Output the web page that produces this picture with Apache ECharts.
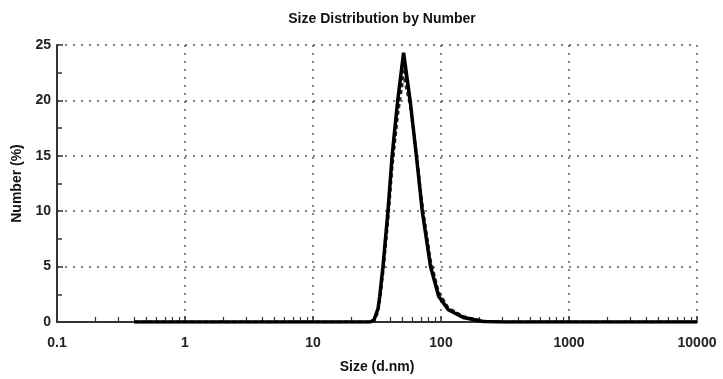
<!DOCTYPE html>
<html>
<head>
<meta charset="utf-8">
<script src="https://cdn.jsdelivr.net/npm/echarts@6/dist/echarts.min.js"></script>
<style>
  html, body { margin: 0; padding: 0; background: #fff; }
  #main { width: 723px; height: 379px; }
</style>
</head>
<body>
<div id="main"></div>
<script>
// size bins (d.nm) and number %
const sizes = [0.4, 1, 10, 28, 30, 32.2, 33.2, 35.2, 38.5, 41.5, 45.9, 51, 57.4, 64.2, 71.4, 82.8, 96, 114, 149, 213, 300, 1000, 10000];
const run1 = [0, 0, 0, 0, 0.2, 1.2, 2.3, 5, 10, 15, 20, 24.3, 20, 15, 10, 5, 2.3, 1.1, 0.4, 0.05, 0, 0, 0];
const run2 = [0, 0, 0, 0, 0.1, 1.0, 2.0, 4.6, 9.4, 14.3, 19.2, 23.2, 19.8, 15.2, 10.4, 5.4, 2.5, 1.2, 0.5, 0.08, 0, 0, 0];
const run3 = [0, 0, 0, 0, 0.1, 0.9, 1.9, 4.3, 9.0, 13.8, 18.6, 22.2, 19.5, 15.3, 10.6, 5.6, 2.7, 1.3, 0.5, 0.1, 0, 0, 0];
const xMinor = [0.2, 0.3, 0.4, 0.5, 0.6, 0.7, 0.8, 0.9, 2, 3, 4, 5, 6, 7, 8, 9, 20, 30, 40, 50, 60, 70, 80, 90,
  200, 300, 400, 500, 600, 700, 800, 900, 2000, 3000, 4000, 5000, 6000, 7000, 8000, 9000];

const chart = echarts.init(document.getElementById('main'));

const pairs = vals => sizes.map((s, i) => [s, vals[i]]);
const font = { fontFamily: 'Liberation Sans', fontWeight: 'bold' };

const option = {
  animation: false,
  title: {
    text: 'Size Distribution by Number',
    left: 377,
    textAlign: 'center',
    top: 7,
    textStyle: Object.assign({ fontSize: 14, color: '#111' }, font)
  },
  grid: { left: 57, right: 26, top: 45, bottom: 57 },
  xAxis: [
    {
      type: 'log',
      logBase: 10,
      min: 0.1,
      max: 10000,
      name: 'Size (d.nm)',
      nameLocation: 'middle',
      nameGap: 38,
      nameTextStyle: Object.assign({ fontSize: 14, color: '#111' }, font),
      axisLine: { onZero: false, lineStyle: { color: '#333', width: 2 } },
      axisTick: { inside: true, length: 6, lineStyle: { color: '#333', width: 1.5 } },
      axisLabel: Object.assign({
        fontSize: 14, color: '#222', margin: 14,
        formatter: v => String(v)
      }, font),
      splitLine: { show: true, lineStyle: { type: [2, 6], color: '#555', width: 1.5 } }
    },
    {
      // minor decade ticks only
      type: 'log',
      logBase: 10,
      min: 0.1,
      max: 10000,
      position: 'bottom',
      axisLine: { show: false, onZero: false },
      axisTick: { show: true, inside: true, length: 5, customValues: xMinor, lineStyle: { color: '#333', width: 1.2 } },
      axisLabel: { show: false },
      splitLine: { show: false }
    }
  ],
  yAxis: {
    type: 'value',
    min: 0,
    max: 25,
    interval: 5,
    name: 'Number (%)',
    nameLocation: 'middle',
    nameGap: 32,
    nameTextStyle: Object.assign({ fontSize: 14, color: '#111' }, font),
    axisLine: { show: true, lineStyle: { color: '#333', width: 2 } },
    axisTick: { show: true, inside: true, length: 6, lineStyle: { color: '#333', width: 1.5 } },
    minorTick: { show: true, splitNumber: 2, length: 5, lineStyle: { color: '#333', width: 1.5 } },
    axisLabel: Object.assign({ fontSize: 14, color: '#222', margin: 6 }, font),
    splitLine: { show: true, lineStyle: { type: [2, 6], color: '#555', width: 1.5 } }
  },
  series: [
    {
      type: 'line', data: pairs(run3), symbol: 'none',
      lineStyle: { color: '#333', width: 2.5, type: [4, 3] }
    },
    {
      type: 'line', data: pairs(run2), symbol: 'none',
      lineStyle: { color: '#222', width: 2.5, type: [4, 3] }
    },
    {
      type: 'line', data: pairs(run1), symbol: 'none',
      lineStyle: { color: '#000', width: 3.5 }
    }
  ]
};

chart.setOption(option);
</script>
</body>
</html>
